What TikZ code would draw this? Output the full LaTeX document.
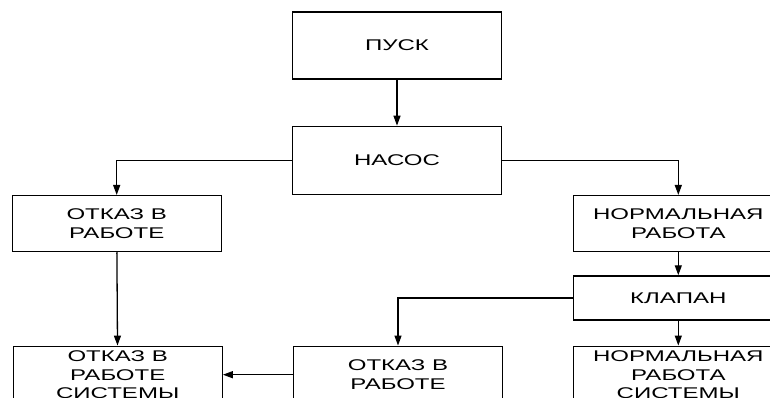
\documentclass[tikz,border=0pt]{standalone}
\usepackage{fontspec}
\setmainfont{Liberation Sans}
\newfontfamily\boxfont[FakeStretch=1.55]{Liberation Sans}
\usetikzlibrary{arrows.meta,positioning}
\tikzset{
  blk/.style={draw,line width=1.3pt,minimum width=209pt,inner sep=0pt,
    align=center,font=\boxfont\fontsize{15.5}{18.5}\selectfont},
  flow/.style={-{Triangle[length=10pt,width=7pt]},line width=1.3pt},
}

\begin{document}
\begin{tikzpicture}[x=1pt,y=1pt]
\useasboundingbox (0,0) rectangle (770,-398);
% top: start and pump
\node[blk,minimum height=67pt] (pusk) at (397,-45.5) {ПУСК};
\node[blk,minimum height=68pt,below=46pt of pusk] (nasos) {НАСОС};
% second row: failure left, normal work and valve right
\node[blk,minimum height=56pt,below left=0pt and 70pt of nasos] (otkaz1) {ОТКАЗ В\\РАБОТЕ};
\node[blk,minimum height=56pt,below right=0pt and 71pt of nasos] (norm1) {НОРМАЛЬНАЯ\\РАБОТА};
\node[blk,minimum height=44pt,below=23pt of norm1] (klapan) {КЛАПАН};
% bottom row
\node[blk,minimum height=57pt,below=25pt of klapan] (norm2) {НОРМАЛЬНАЯ\\РАБОТА\\СИСТЕМЫ};
\node[blk,minimum height=57pt,left=70pt of norm2] (otkaz3) {ОТКАЗ В\\РАБОТЕ};
\node[blk,minimum height=57pt,left=70pt of otkaz3] (otkaz2) {ОТКАЗ В\\РАБОТЕ\\СИСТЕМЫ};
\draw[flow] (pusk) -- (nasos);
\draw[flow] (nasos.west) -| (otkaz1.north);
\draw[flow] (nasos.east) -| (norm1.north);
\draw[flow] (otkaz1) -- (otkaz2);
\draw[flow] (norm1) -- (klapan);
\draw[flow] (klapan) -- (norm2);
\draw[flow] (klapan.west) -| (otkaz3.north);
\draw[flow] (otkaz3) -- (otkaz2);
\end{tikzpicture}
\end{document}
